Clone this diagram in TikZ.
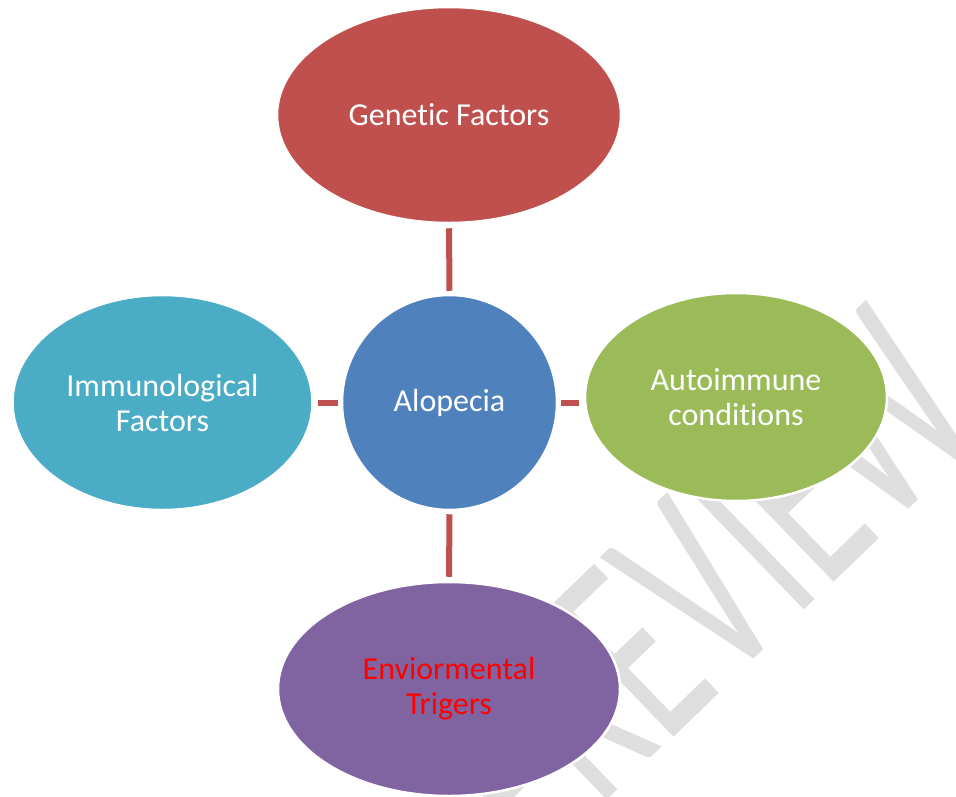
\documentclass[tikz,border=0pt]{standalone}
\usepackage{fontspec}
\setmainfont{Carlito}[Ligatures=NoCommon]
\usetikzlibrary{shapes.geometric}
\definecolor{cred}{HTML}{C0504D}
\definecolor{cblue}{HTML}{4F81BD}
\definecolor{cgreen}{HTML}{9BBB59}
\definecolor{cpurple}{HTML}{8064A2}
\definecolor{ccyan}{HTML}{4BACC6}
\definecolor{wmark}{HTML}{DEDEDE}
\definecolor{tred}{HTML}{FF0000}
\tikzset{
  blob/.style={ellipse, draw=white, line width=2.5pt, inner sep=0pt, text=white,
    align=center, font=\fontsize{32}{35}\selectfont},
  link/.style={draw=cred, line width=6pt},
  wm/.style={text=wmark, font=\fontsize{280}{280}\selectfont, inner sep=0pt,
    outer sep=0pt, anchor=base west, rotate=44, xscale=0.6}
}
\begin{document}
\begin{tikzpicture}[x=1pt,y=-1pt]
\useasboundingbox (0,0) rectangle (956,796);
\fill[white] (0,0) rectangle (956,796);
% watermark, one letter per node along a line rising at 44 degrees
\begin{scope}[shift={(665,745)}, rotate=44]
  \node[wm] (wP) at (-179,0) {P};
  \node[wm] (wR) at (-92,0) {R};
  \node[wm] (wE1) at (0,0) {E};
  \node[wm] (wV) at (82.5,0) {V};
  \node[wm] (wI) at (180,0) {I};
  \node[wm] (wE2) at (223,0) {E};
  \node[wm] (wW) at (305.5,0) {W};
\end{scope}
% nodes
\node[blob, fill=cred, minimum width=344pt, minimum height=216pt] (gen) at (449,115) {Genetic Factors};
\node[blob, fill=cblue, circle, minimum size=215pt] (alo) at (449.5,402.5) {Alopecia};
\node[blob, fill=ccyan, minimum width=300pt, minimum height=215pt] (imm) at (162.5,402.5) {Immunological\\Factors};
\node[blob, fill=cgreen, minimum width=302pt, minimum height=208pt] (aut) at (736,397) {Autoimmune\\conditions};
\node[blob, fill=cpurple, minimum width=342pt, minimum height=214pt, text=tred] (env) at (449,689) {Enviormental\\Trigers};
% connectors
\draw[link, shorten <=4pt, shorten >=3pt] (gen.south) -- (alo.north);
\draw[link, shorten <=3pt, shorten >=4pt] (alo.south) -- (env.north);
\draw[link, shorten <=3pt, shorten >=4pt] (alo.west) -- (imm.east);
\draw[link, shorten <=3pt, shorten >=5pt] (alo.east) -- (alo.east -| aut.west);
\end{tikzpicture}
\end{document}
